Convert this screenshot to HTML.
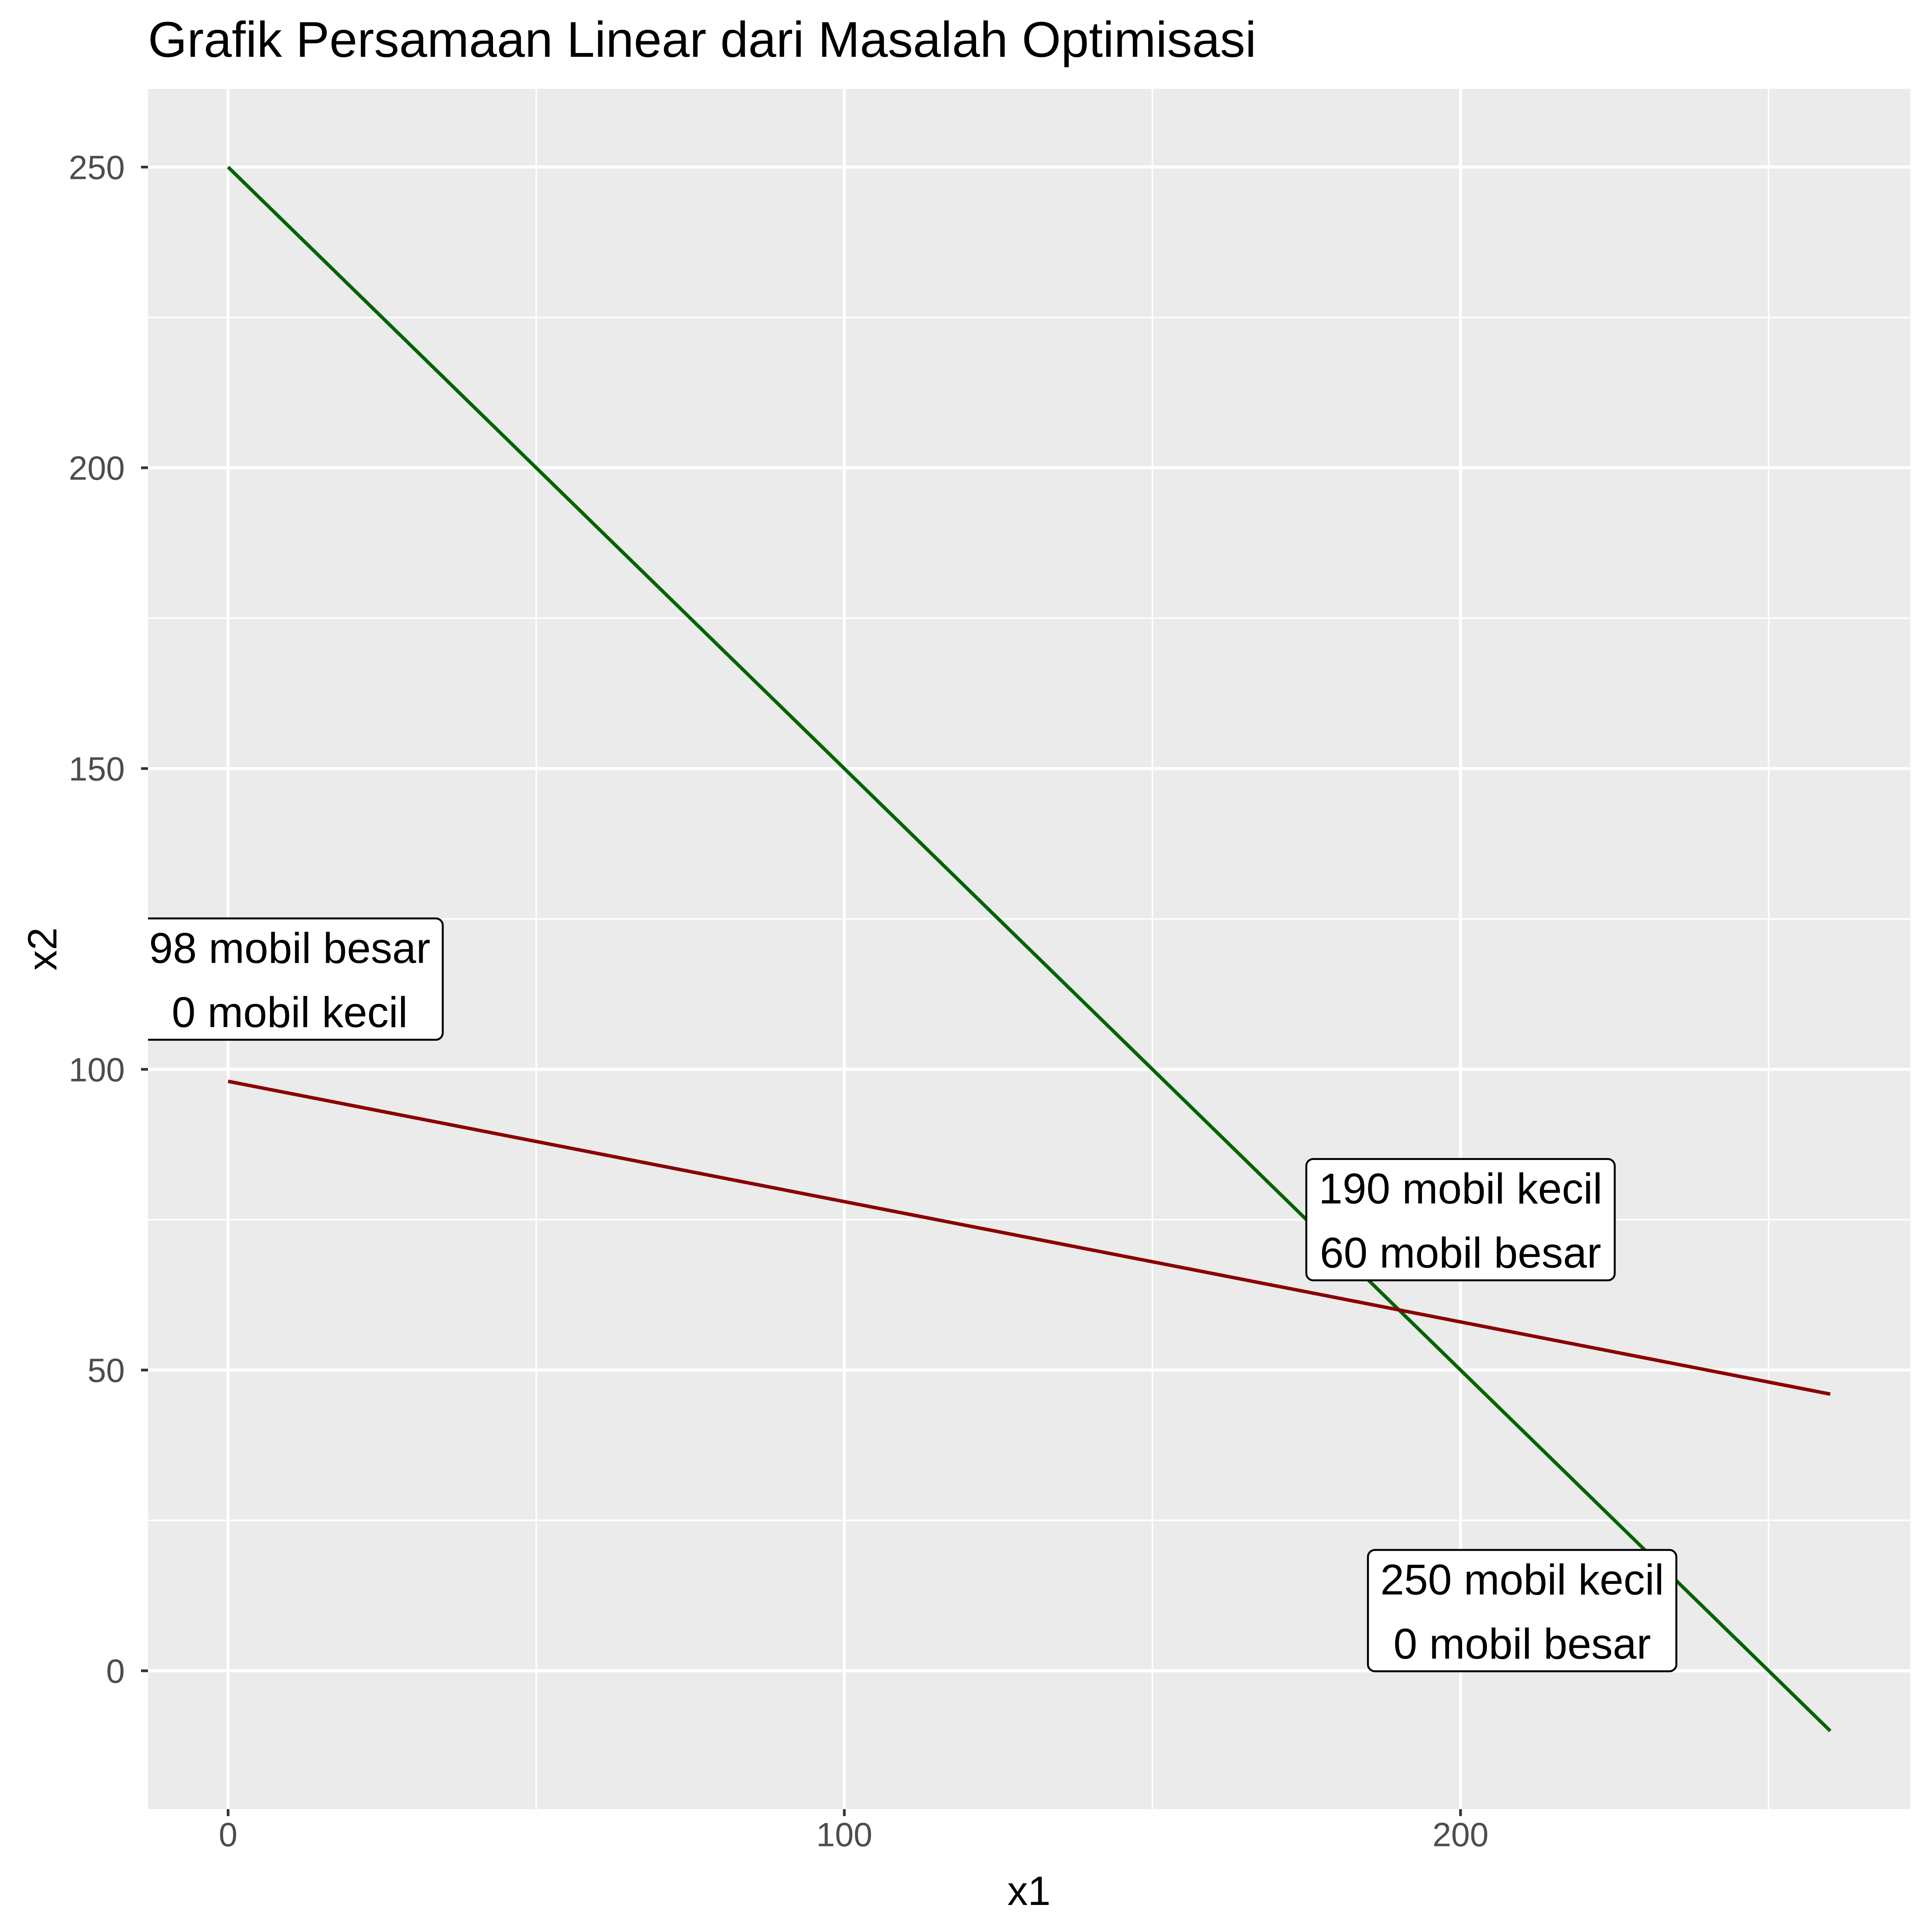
<!DOCTYPE html>
<html><head><meta charset="utf-8"><style>
html,body{margin:0;padding:0;background:#fff;overflow:hidden;width:5040px;height:5040px;}
svg{display:block;font-family:"Liberation Sans",Arial,sans-serif;}
</style></head><body>
<svg id="chart" width="5040" height="5040" viewBox="0 0 5040 5040" xmlns="http://www.w3.org/2000/svg">
<defs><clipPath id="pclip"><rect x="383" y="230" width="4561" height="4452"/></clipPath></defs>
<rect x="0" y="0" width="5040" height="5040" fill="#fff"/>
<rect x="383" y="230" width="4561" height="4452" fill="#EBEBEB"/>
<g id="grid"></g>
<g id="series" clip-path="url(#pclip)"></g>
<g id="labels" clip-path="url(#pclip)"></g>
<g id="axes"></g>
<text x="383" y="147" font-size="130" fill="#000">Grafik Persamaan Linear dari Masalah Optimisasi</text>
<text x="2663" y="4930" font-size="106" text-anchor="middle" fill="#000">x1</text>
<text transform="translate(146,2456) rotate(-90)" font-size="106" text-anchor="middle" fill="#000">x2</text>
</svg>
<script>
const xTicks = [0, 100, 200];
const xMinor = [50, 150, 250];
const yTicks = [0, 50, 100, 150, 200, 250];
const yMinor = [25, 75, 125, 175, 225];
const lineGreenX = [0, 260];
const lineGreenY = [250, -10];
const lineRedX = [0, 260];
const lineRedY = [98, 46];
const labelX = [10, 200, 210];
const labelY = [115, 75, 10];
const labelLine1 = ["98 mobil besar", "190 mobil kecil", "250 mobil kecil"];
const labelLine2 = ["0 mobil kecil", "60 mobil besar", "0 mobil besar"];

const PL=383, PR=4944, PT=230, PB=4682;
const XMIN=-13, XMAX=273, YMIN=-23, YMAX=263;
function sx(v){return PL+(v-XMIN)/(XMAX-XMIN)*(PR-PL);}
function sy(v){return PB-(v-YMIN)/(YMAX-YMIN)*(PB-PT);}
const NS="http://www.w3.org/2000/svg";
function mk(tag, attrs, parent){const e=document.createElementNS(NS,tag);for(const k in attrs)e.setAttribute(k,attrs[k]);parent.appendChild(e);return e;}
const grid=document.getElementById('grid'), series=document.getElementById('series'), labels=document.getElementById('labels'), axes=document.getElementById('axes');

xMinor.forEach(v=>{const l=mk('line',{x1:sx(v),x2:sx(v),y1:PT,y2:PB,stroke:'#fff','stroke-width':4},grid);

});
yMinor.forEach(v=>{const l=mk('line',{x1:PL,x2:PR,y1:sy(v),y2:sy(v),stroke:'#fff','stroke-width':4},grid);

});
xTicks.forEach(v=>{const l=mk('line',{x1:sx(v),x2:sx(v),y1:PT,y2:PB,stroke:'#fff','stroke-width':8},grid);


const t=mk('line',{x1:sx(v),x2:sx(v),y1:PB,y2:PB+18,stroke:'#333','stroke-width':7},axes);


const tx=mk('text',{x:sx(v),y:PB+96,'font-size':87,'text-anchor':'middle',fill:'#4D4D4D'},axes);
tx.textContent=v;

});
yTicks.forEach(v=>{const l=mk('line',{x1:PL,x2:PR,y1:sy(v),y2:sy(v),stroke:'#fff','stroke-width':8},grid);


const t=mk('line',{x1:PL-18,x2:PL,y1:sy(v),y2:sy(v),stroke:'#333','stroke-width':7},axes);


const tx=mk('text',{x:PL-60,y:sy(v)+31,'font-size':87,'text-anchor':'end',fill:'#4D4D4D'},axes);
tx.textContent=v;

});

const g=mk('line',{x1:sx(lineGreenX[0]),y1:sy(lineGreenY[0]),x2:sx(lineGreenX[1]),y2:sy(lineGreenY[1]),stroke:'#006400','stroke-width':9},series);


const r=mk('line',{x1:sx(lineRedX[0]),y1:sy(lineRedY[0]),x2:sx(lineRedX[1]),y2:sy(lineRedY[1]),stroke:'#8B0000','stroke-width':9},series);



labelX.forEach((v,i)=>{
  const cx=sx(v), cy=sy(labelY[i]);
  const grp=mk('g',{},labels);
  
  
  const t1=mk('text',{x:cx,y:cy-42,'font-size':111,'text-anchor':'middle',fill:'#000'},grp);
  t1.textContent=labelLine1[i];
  const t2=mk('text',{x:cx,y:cy+124,'font-size':111,'text-anchor':'middle',fill:'#000'},grp);
  t2.textContent=labelLine2[i];
  const w=Math.max(t1.getComputedTextLength(),t2.getComputedTextLength())+64;
  const bx=mk('rect',{x:cx-w/2,y:cy-157,width:w,height:314,rx:18,ry:18,fill:'#fff',stroke:'#000','stroke-width':5},grp);
  grp.insertBefore(bx,t1);
});
</script>
</body></html>
